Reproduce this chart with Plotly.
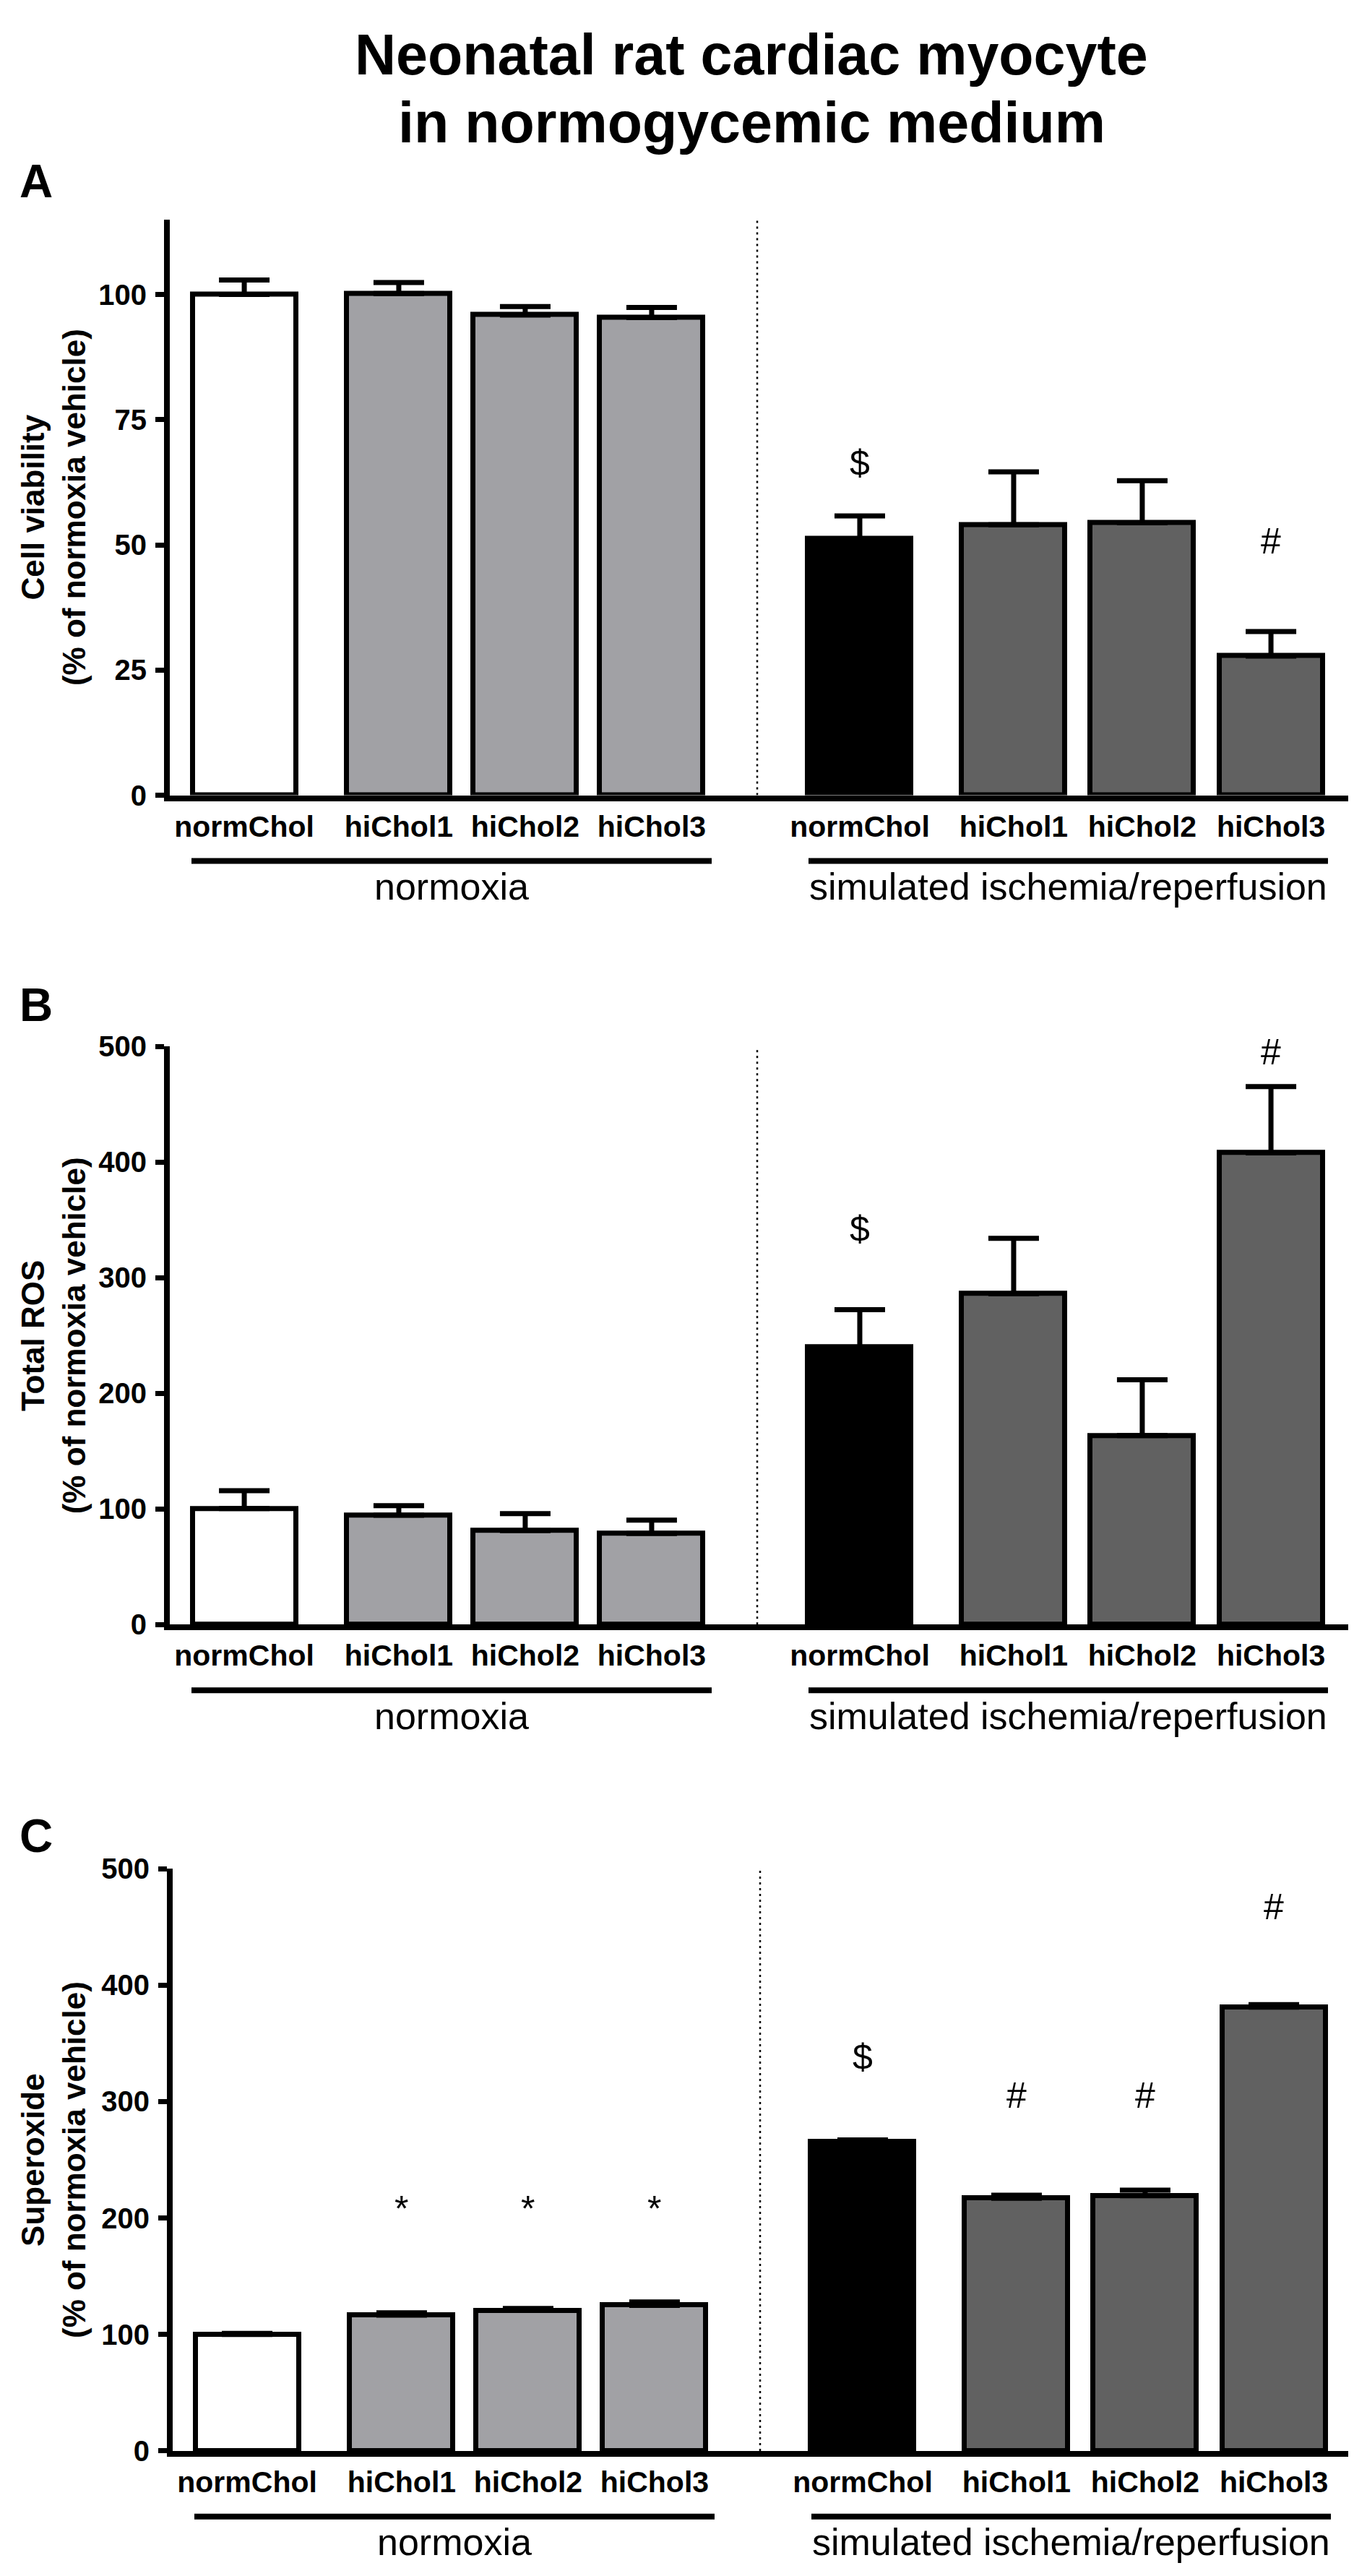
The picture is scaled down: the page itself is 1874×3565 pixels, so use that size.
import plotly.graph_objects as go

W, H = 1874, 3565
FONT = "Liberation Sans, Arial, Helvetica, sans-serif"

# ---- data ----
treatments = ["normChol", "hiChol1", "hiChol2", "hiChol3"]
tick_labels = treatments + treatments
groups = ["normoxia", "simulated ischemia/reperfusion"]

viability = [100.0, 100.2, 95.9, 95.4, 51.2, 54.0, 54.4, 27.8]
viability_sem = [2.9, 2.2, 1.7, 2.0, 4.6, 10.6, 8.4, 4.9]

ros = [100.3, 94.6, 81.2, 78.7, 239.8, 286.1, 163.4, 408.0]
ros_sem = [15.5, 8.3, 14.7, 11.6, 32.5, 48.0, 48.4, 57.4]

superoxide = [100.0, 116.7, 120.6, 125.0, 265.4, 217.0, 219.2, 381.1]
superoxide_sem = [1.0, 2.0, 1.8, 3.0, 1.7, 2.6, 4.8, 2.2]

# significance symbols: bar index, height, symbol
viability_mark_idx = [4, 7]
viability_mark_y = [66.3, 50.7]
viability_mark_txt = ["$", "#"]

ros_mark_idx = [4, 7]
ros_mark_y = [342, 495]
ros_mark_txt = ["$", "#"]

superoxide_mark_idx = [1, 2, 3, 4, 5, 6, 7]
superoxide_mark_y = [208, 208, 208, 338, 305, 305, 467]
superoxide_mark_txt = ["*", "*", "*", "$", "#", "#", "#"]

bar_colors = ["#ffffff", "#a1a1a5", "#a1a1a5", "#a1a1a5",
              "#000000", "#616161", "#616161", "#616161"]

# ---- layout helpers (pixel positions of the original figure) ----
SLOT = 175.0
x_pos = [0.589, 1.811, 2.811, 3.811, 5.457, 6.674, 7.691, 8.709]
x_max = 1634 / SLOT
divider_x = (1040 - 227) / SLOT
group_spans = [(30 / SLOT, 750 / SLOT), (884 / SLOT, 1603 / SLOT)]


def py(p):
    return 1 - p / H


def px(p):
    return p / W


panels = [
    dict(vals=viability, sem=viability_sem, idx=viability_mark_idx, my=viability_mark_y,
         mt=viability_mark_txt, ymax=115, tickvals=[0, 25, 50, 75, 100],
         title="Cell viability<br>(% of normoxia vehicle)", letter="A",
         top=277, bottom=1084, left=227, letter_y=224),
    dict(vals=ros, sem=ros_sem, idx=ros_mark_idx, my=ros_mark_y, mt=ros_mark_txt,
         ymax=500, tickvals=[0, 100, 200, 300, 400, 500],
         title="Total ROS<br>(% of normoxia vehicle)", letter="B",
         top=1436, bottom=2246, left=227, letter_y=1378),
    dict(vals=superoxide, sem=superoxide_sem, idx=superoxide_mark_idx, my=superoxide_mark_y,
         mt=superoxide_mark_txt, ymax=500, tickvals=[0, 100, 200, 300, 400, 500],
         title="Superoxide<br>(% of normoxia vehicle)", letter="C",
         top=2588, bottom=3404, left=231, letter_y=2542),
]

fig = go.Figure()
annotations = []
shapes = []
layout = {}

for i, p in enumerate(panels, start=1):
    xa = "x" if i == 1 else f"x{i}"
    ya = "y" if i == 1 else f"y{i}"
    xkey = "xaxis" if i == 1 else f"xaxis{i}"
    ykey = "yaxis" if i == 1 else f"yaxis{i}"

    fig.add_trace(go.Bar(
        x=x_pos, y=p["vals"], xaxis=xa, yaxis=ya, width=0.817,
        marker=dict(color=bar_colors, line=dict(color="black", width=7)),
        error_y=dict(type="data", symmetric=False, array=p["sem"],
                     arrayminus=[0] * len(p["sem"]), color="black",
                     thickness=7, width=35),
        showlegend=False, hoverinfo="skip",
    ))

    layout[xkey] = dict(
        domain=[px(p["left"]), px(p["left"] + 1634)], anchor=ya,
        range=[0, x_max], showline=True, linewidth=8, linecolor="black",
        showgrid=False, zeroline=False, tickmode="array",
        tickvals=x_pos, ticktext=tick_labels, ticks="",
        tickfont=dict(family=FONT, size=41, color="black", weight="bold"),
    )
    layout[ykey] = dict(
        domain=[py(p["bottom"]), py(p["top"])], anchor=xa,
        range=[0, p["ymax"]], showline=True, linewidth=8, linecolor="black",
        showgrid=False, zeroline=False, tickmode="array",
        tickvals=p["tickvals"], ticks="outside", ticklen=12, tickwidth=7,
        tickcolor="black", ticklabelstandoff=4,
        tickfont=dict(family=FONT, size=40, color="black", weight="bold"),
    )

    # divider between the two conditions
    shapes.append(dict(type="line", xref=xa, yref=ya, x0=divider_x, x1=divider_x,
                       y0=0, y1=p["ymax"], line=dict(color="black", width=2.5, dash="3px,5px")))

    # group underlines and labels
    line_y = p["bottom"] + 92
    for (g0, g1), name in zip(group_spans, groups):
        shapes.append(dict(type="line", xref=xa, yref="paper", x0=g0, x1=g1,
                           y0=py(line_y), y1=py(line_y), line=dict(color="black", width=8)))
        annotations.append(dict(x=(g0 + g1) / 2, y=py(p["bottom"] + 128), xref=xa, yref="paper",
                                text=name, showarrow=False, xanchor="center", yanchor="middle",
                                font=dict(family=FONT, size=52, color="black")))

    # significance symbols
    for k, yv, t in zip(p["idx"], p["my"], p["mt"]):
        annotations.append(dict(x=x_pos[k], y=yv, xref=xa, yref=ya, text=t, showarrow=False,
                                xanchor="center", yanchor="middle",
                                font=dict(family=FONT, size=50, color="black")))

    # y title
    annotations.append(dict(x=px(66), y=py((p["top"] + p["bottom"]) / 2), xref="paper", yref="paper",
                            text=p["title"], textangle=-90, showarrow=False,
                            xanchor="center", yanchor="middle",
                            font=dict(family=FONT, size=44, color="black", weight="bold")))
    # panel letter
    annotations.append(dict(x=px(42), y=py(p["letter_y"]), xref="paper", yref="paper",
                            text=p["letter"], showarrow=False, xanchor="center", yanchor="middle",
                            font=dict(family=FONT, size=64, color="black", weight="bold")))

# main title
for txt, yy in [("Neonatal rat cardiac myocyte", 46), ("in normogycemic medium", 141)]:
    annotations.append(dict(x=px(1032), y=py(yy), xref="paper", yref="paper", text=txt,
                            showarrow=False, xanchor="center", yanchor="middle",
                            font=dict(family=FONT, size=79, color="black", weight="bold")))

fig.update_layout(
    width=W, height=H, autosize=False,
    margin=dict(l=0, r=0, t=0, b=0),
    paper_bgcolor="white", plot_bgcolor="white",
    annotations=annotations, shapes=shapes, bargap=0,
    **layout,
)

fig.write_html("out.html")
